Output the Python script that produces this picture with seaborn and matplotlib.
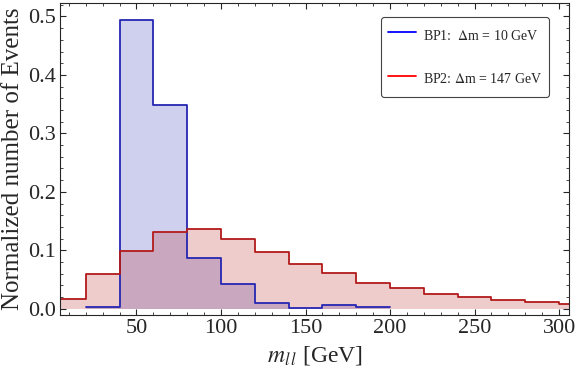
import matplotlib
matplotlib.use('Agg')
import matplotlib.pyplot as plt
import numpy as np
import seaborn as sns
from matplotlib.lines import Line2D
from matplotlib.ticker import MultipleLocator

# Data: bin edges in GeV and normalized heights
bp1_edges = [20, 40, 60, 80, 100, 120, 140, 160, 180, 200]
bp1_values = [0.003, 0.494, 0.349, 0.087, 0.043, 0.010, 0.001, 0.007, 0.003]

bp2_edges = [0, 20, 40, 60, 80, 100, 120, 140, 160, 180, 200, 220, 240, 260, 280, 300, 320]
bp2_values = [0.017, 0.060, 0.099, 0.131, 0.136, 0.119, 0.097, 0.077, 0.061,
              0.044, 0.035, 0.026, 0.020, 0.015, 0.011, 0.008]

labels = ['BP1:  $\\Delta$m = 10 GeV', 'BP2: $\\Delta$m = 147 GeV']

sns.set_style('ticks')
plt.rcParams['font.family'] = ['Liberation Serif', 'DejaVu Serif']
plt.rcParams['mathtext.fontset'] = 'stix'

blue_edge = (0.15, 0.15, 0.70)
red_edge = (0.70, 0.10, 0.10)

fig, ax = plt.subplots(figsize=(5.76, 3.73), dpi=100)
fig.subplots_adjust(left=0.104, right=0.988, top=0.992, bottom=0.155)

def centers(edges):
    e = np.array(edges, dtype=float)
    return (e[:-1] + e[1:]) / 2

for edges, vals, col in [(bp1_edges, bp1_values, blue_edge), (bp2_edges, bp2_values, red_edge)]:
    sns.histplot(x=centers(edges), weights=vals, bins=edges, element='step', fill=True,
                 color=col, alpha=0.22, linewidth=0, ax=ax)
for edges, vals, col in [(bp1_edges, bp1_values, blue_edge), (bp2_edges, bp2_values, red_edge)]:
    sns.histplot(x=centers(edges), weights=vals, bins=edges, element='step', fill=False,
                 color=col, linewidth=1.3, ax=ax)

ax.set_xlim(4.7, 305.9)
ax.set_ylim(-0.011, 0.523)
ax.xaxis.set_major_locator(MultipleLocator(50))
ax.xaxis.set_minor_locator(MultipleLocator(10))
ax.yaxis.set_major_locator(MultipleLocator(0.1))
ax.yaxis.set_minor_locator(MultipleLocator(0.02))
ax.tick_params(which='both', direction='in', top=True, right=True, labelsize=16, pad=3)
ax.tick_params(which='major', length=4.5)
ax.tick_params(which='minor', length=2.5)
ax.yaxis.set_major_formatter(matplotlib.ticker.FormatStrFormatter('%.1f'))

ax.set_xlabel(r'$m_{l\,l}$ [GeV]', fontsize=17, labelpad=4)
ax.set_ylabel('Normalized number of Events', fontsize=18, labelpad=3)

handles = [Line2D([], [], color='blue', lw=1.3), Line2D([], [], color='red', lw=1.3)]
leg = ax.legend(handles, labels, loc='upper right', bbox_to_anchor=(0.961, 0.955),
                borderaxespad=0, fontsize=10, labelspacing=1.55, handlelength=2.0,
                handleheight=2.1, handletextpad=0.5, borderpad=0.5, fancybox=True,
                framealpha=1, edgecolor='#444444')
leg.get_frame().set_linewidth(0.8)

fig.savefig('out.png', dpi=100)
